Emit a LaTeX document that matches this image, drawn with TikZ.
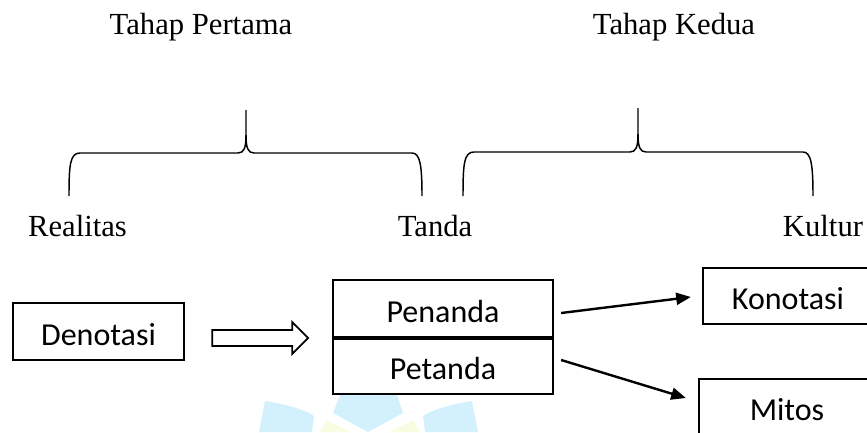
\documentclass[tikz,border=0pt]{standalone}
\usepackage{fontspec}
\setmainfont{Liberation Serif}
\newfontfamily\boxfont{Carlito}
\usetikzlibrary{arrows.meta}
\definecolor{wmblue}{HTML}{D2F1FC}
\definecolor{wmyellow}{HTML}{F8FCE0}
\begin{document}
\begin{tikzpicture}[x=0.75pt,y=-0.75pt,
  lbl/.style={font=\fontsize{23}{27}\selectfont, anchor=base, inner sep=0pt},
  boxn/.style={draw, line width=1.7pt, inner sep=0pt, text height=20.25pt, text depth=0pt,
    font=\boxfont\fontsize{24}{28}\selectfont},
  bracepath/.style={line width=1.1pt},
  arr/.style={line width=1.8pt, -{Triangle[length=11pt,width=9pt]}},
  hollow/.style={line width=1.3pt}
]
\useasboundingbox (0,0) rectangle (867,432);
\clip (0,0) rectangle (867,432);
% watermark
\fill[wmblue] (265,401) .. controls (290,405) and (305,410) .. (314,416) -- (312,432) -- (259,432) -- cycle;
\fill[wmblue] (472,401) .. controls (447,405) and (432,410) .. (423,416) -- (425,432) -- (478,432) -- cycle;
\fill[wmblue] (340,395) -- (397,395) -- (403,413) -- (368,432) -- (333,413) -- cycle;
\fill[wmyellow] (320,432) -- (327,420) -- (350,432) -- cycle;
\fill[wmyellow] (390,432) -- (413,420) -- (420,432) -- cycle;
% top labels
\node[lbl] (t1) at (201,34) {Tahap Pertama};
\node[lbl] (t2) at (674,34) {Tahap Kedua};
\node[lbl] (r) at (77.5,236) {Realitas};
\node[lbl] (tanda) at (435,236) {Tanda};
\node[lbl] (k) at (823,236) {Kultur};
% braces
\draw[bracepath] (69,196) .. controls (69,165) and (70,153) .. (80,153) -- (238,153)
  .. controls (244,153) and (246,148) .. (246,135) -- (246,110);
\draw[bracepath] (246,135) .. controls (246,148) and (248,153) .. (254,153) -- (412,153)
  .. controls (420,153) and (422,165) .. (422,196);
\draw[bracepath] (463,196) .. controls (463,164) and (464,152) .. (474,152) -- (630,152)
  .. controls (636,152) and (638,147) .. (638,134) -- (638,108);
\draw[bracepath] (638,134) .. controls (638,147) and (640,152) .. (646,152) -- (803,152)
  .. controls (811,152) and (813,164) .. (813,196);
% boxes
\node[boxn, minimum width=128.25pt, minimum height=42.75pt] (den) at (98.5,331.5) {Denotasi};
\node[boxn, minimum width=165pt, minimum height=42.75pt] (pen) at (443,308.5) {Penanda};
\node[boxn, minimum width=165pt, minimum height=42.75pt] (pet) at (443,365.5) {Petanda};
\draw[line width=3pt] (pen.south west) -- (pen.south east);
\node[boxn, minimum width=127.5pt, minimum height=42pt] (kon) at (788,296) {Konotasi};
\node[boxn, minimum width=132pt, minimum height=42pt] (mit) at (787,407) {Mitos};
% hollow arrow
\coordinate (ha) at ([shift={(27,6.5)}]den.east);
\draw[hollow] (ha) ++(0,-8) -- ++(80,0) -- ++(0,-8) -- ++(16,16) -- ++(-16,16) -- ++(0,-8) -- ++(-80,0) -- cycle;
% arrows
\draw[arr] ([shift={(7,4.5)}]pen.east) -- ([shift={(-11,1)}]kon.west);
\draw[arr] ([shift={(7,-5.5)}]pet.east) -- ([shift={(-12,-9)}]mit.west);
\end{tikzpicture}
\end{document}
